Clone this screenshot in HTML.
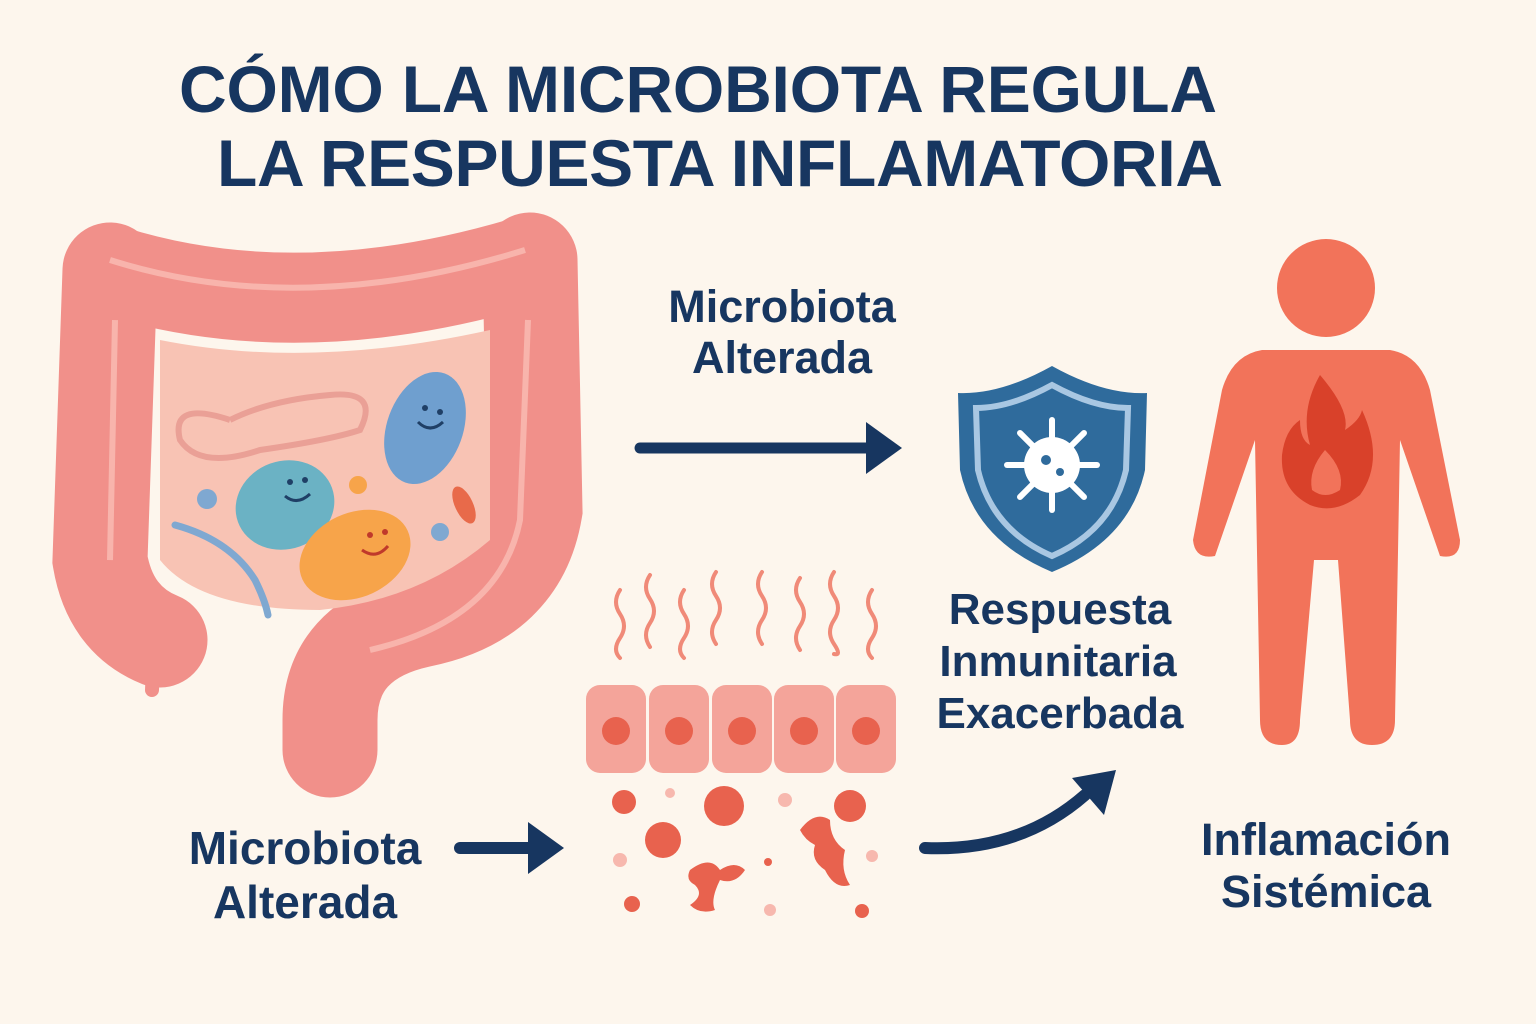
<!DOCTYPE html>
<html><head><meta charset="utf-8"><style>
html,body{margin:0;padding:0;background:#fdf6ed;}
svg{display:block}
text{font-family:"Liberation Sans","DejaVu Sans",sans-serif;font-weight:bold;fill:#173660}
</style></head><body>
<svg width="1536" height="1024" viewBox="0 0 1536 1024" xmlns="http://www.w3.org/2000/svg">
<rect width="1536" height="1024" fill="#fdf6ed"/>
<text x="698" y="112" font-size="66" text-anchor="middle" textLength="1038">CÓMO LA MICROBIOTA REGULA</text>
<text x="720" y="186" font-size="66" text-anchor="middle" textLength="1006">LA RESPUESTA INFLAMATORIA</text>

<!-- intestine -->
<g>
<path d="M110 270 Q300 330 530 260" stroke="#f1908a" stroke-width="90" fill="none" stroke-linecap="round"/>
<path d="M110 270 L100 560 Q110 620 160 640" stroke="#f1908a" stroke-width="95" fill="none" stroke-linecap="round"/>
<path d="M530 260 L535 510 Q520 600 420 620 Q330 640 330 720 L330 750" stroke="#f1908a" stroke-width="95" fill="none" stroke-linecap="round"/>
<path d="M155 620 L152 690" stroke="#f1908a" stroke-width="14" stroke-linecap="round"/>
<path d="M160 340 Q310 370 490 330 L490 540 Q420 600 320 610 Q200 610 160 560 Z" fill="#f8c3b4"/>
<path d="M110 260 Q300 320 525 250" stroke="#f8b4ac" stroke-width="6" fill="none"/>
<path d="M115 320 L110 560" stroke="#f8b4ac" stroke-width="6" fill="none"/>
<path d="M528 320 L520 520 Q500 620 370 650" stroke="#f8b4ac" stroke-width="6" fill="none"/>
<path d="M230 420 Q170 400 180 440 Q200 470 260 450 Q330 440 360 430 Q380 390 330 395 Q270 400 230 420" stroke="#eaa096" stroke-width="6" fill="none"/>
<path d="M175 525 Q230 540 255 580 Q265 600 268 615" stroke="#7fa8d1" stroke-width="7" fill="none" stroke-linecap="round"/>
<ellipse cx="425" cy="428" rx="38" ry="58" transform="rotate(20 425 428)" fill="#6f9fcf"/>
<ellipse cx="285" cy="505" rx="50" ry="44" transform="rotate(-20 285 505)" fill="#6bb2c4"/>
<ellipse cx="355" cy="555" rx="58" ry="42" transform="rotate(-25 355 555)" fill="#f7a44a"/>
<g fill="#1f3f66"><circle cx="425" cy="408" r="3"/><circle cx="440" cy="412" r="3"/><circle cx="290" cy="482" r="3"/><circle cx="305" cy="480" r="3"/></g>
<path d="M418 422 q12 12 25 0" stroke="#1f3f66" stroke-width="3" fill="none"/>
<path d="M285 496 q12 10 25 -2" stroke="#1f3f66" stroke-width="3" fill="none"/>
<g fill="#c0392b"><circle cx="370" cy="535" r="3"/><circle cx="385" cy="532" r="3"/></g>
<path d="M362 550 q14 10 26 -4" stroke="#c0392b" stroke-width="3" fill="none"/>
<circle cx="207" cy="499" r="10" fill="#7fa8d1"/><circle cx="358" cy="485" r="9" fill="#f7a44a"/>
<circle cx="440" cy="532" r="9" fill="#7fa8d1"/>
<ellipse cx="464" cy="505" rx="9" ry="20" transform="rotate(-25 464 505)" fill="#e86a4a"/>
</g>

<!-- top arrow -->
<text x="782" y="322" font-size="45" text-anchor="middle">Microbiota</text>
<text x="782" y="373" font-size="45" text-anchor="middle">Alterada</text>
<line x1="640" y1="448" x2="875" y2="448" stroke="#173660" stroke-width="11" stroke-linecap="round"/>
<path d="M866 422 L902 448 L866 474 Z" fill="#173660"/>

<!-- shield -->
<path d="M1052 366 Q1000 395 958 393 L960 470 Q975 540 1052 572 Q1130 540 1145 470 L1147 393 Q1104 395 1052 366 Z" fill="#2f6b9c"/>
<path d="M1052 385 Q1010 408 976 408 L978 470 Q992 530 1052 556 Q1112 530 1126 470 L1128 408 Q1094 408 1052 385 Z" fill="none" stroke="#a9c7e2" stroke-width="6"/>
<g stroke="#fff" stroke-width="6" stroke-linecap="round">
<line x1="1052" y1="420" x2="1052" y2="510"/><line x1="1007" y1="465" x2="1097" y2="465"/>
<line x1="1020" y1="433" x2="1084" y2="497"/><line x1="1084" y1="433" x2="1020" y2="497"/>
</g>
<circle cx="1052" cy="465" r="28" fill="#fff"/>
<circle cx="1046" cy="460" r="5" fill="#2f6b9c"/><circle cx="1060" cy="472" r="4" fill="#2f6b9c"/>
<text x="1060" y="624" font-size="44" text-anchor="middle">Respuesta</text>
<text x="1058" y="676" font-size="44" text-anchor="middle">Inmunitaria</text>
<text x="1060" y="728" font-size="44" text-anchor="middle">Exacerbada</text>

<!-- person -->
<g fill="#f2735a">
<circle cx="1326" cy="288" r="49"/>
<path d="M1262 350 L1390 350 Q1420 355 1430 390 L1460 540 Q1460 560 1440 556 L1400 440 L1395 720 Q1395 745 1372 745 Q1350 745 1350 720 L1338 560 L1314 560 L1300 720 Q1300 745 1282 745 Q1260 745 1260 720 L1255 440 L1215 556 Q1195 560 1193 540 L1222 390 Q1232 355 1262 350 Z"/>
</g>
<path d="M1320 375 Q1350 410 1345 430 Q1360 420 1362 410 Q1385 460 1360 495 Q1335 515 1310 505 Q1280 490 1282 455 Q1285 430 1300 420 Q1300 440 1310 445 Q1300 410 1320 375 Z" fill="#d9412a"/>
<path d="M1325 450 Q1345 470 1340 490 Q1325 500 1312 490 Q1308 470 1325 450 Z" fill="#f2735a"/>
<text x="1326" y="855" font-size="45" text-anchor="middle">Inflamación</text>
<text x="1326" y="907" font-size="45" text-anchor="middle">Sistémica</text>

<!-- bottom -->
<text x="305" y="864" font-size="46" text-anchor="middle">Microbiota</text>
<text x="305" y="918" font-size="46" text-anchor="middle">Alterada</text>
<line x1="460" y1="848" x2="535" y2="848" stroke="#173660" stroke-width="12" stroke-linecap="round"/>
<path d="M528 822 L564 848 L528 874 Z" fill="#173660"/>

<g stroke="#f08a78" stroke-width="4" fill="none" stroke-linecap="round">
<path d="M620 590 q-8 12 0 24 q8 12 0 24 q-8 12 0 20"/>
<path d="M650 575 q-8 12 0 24 q8 12 0 24 q-8 12 0 24"/>
<path d="M684 590 q-8 12 0 24 q8 12 0 24 q-8 12 0 20"/>
<path d="M716 572 q-8 12 0 24 q8 12 0 24 q-8 12 0 24"/>
<path d="M762 572 q-8 12 0 24 q8 12 0 24 q-8 12 0 24"/>
<path d="M800 578 q-8 12 0 24 q8 12 0 24 q-8 12 0 24"/>
<path d="M834 572 q-8 12 0 24 q8 12 0 24 q-8 12 0 24 q8 12 0 10"/>
<path d="M872 590 q-8 12 0 24 q8 12 0 24 q-8 12 0 20"/>
</g>
<g fill="#f4a49a">
<rect x="586" y="685" width="60" height="88" rx="14"/><rect x="649" y="685" width="60" height="88" rx="14"/>
<rect x="712" y="685" width="60" height="88" rx="14"/><rect x="774" y="685" width="60" height="88" rx="14"/>
<rect x="836" y="685" width="60" height="88" rx="14"/>
</g>
<g fill="#e8624e">
<circle cx="616" cy="731" r="14"/><circle cx="679" cy="731" r="14"/><circle cx="742" cy="731" r="14"/><circle cx="804" cy="731" r="14"/><circle cx="866" cy="731" r="14"/>
<circle cx="624" cy="802" r="12"/><circle cx="724" cy="806" r="20"/><circle cx="850" cy="806" r="16"/>
<circle cx="663" cy="840" r="18"/><circle cx="632" cy="904" r="8"/><circle cx="862" cy="911" r="7"/><circle cx="768" cy="862" r="4"/>
<path d="M690 870 q20 -15 30 0 q15 -10 25 0 q-10 15 -25 10 q-10 20 -5 30 q-15 5 -25 -5 q15 -10 5 -20 q-10 -5 -5 -15 Z"/>
<path d="M800 830 q15 -20 30 -10 q0 20 15 30 q-5 20 5 35 q-15 5 -25 -15 q-15 -10 -10 -25 q-10 -5 -15 -15 Z"/>
</g>
<g fill="#f7b8ae"><circle cx="670" cy="793" r="5"/><circle cx="785" cy="800" r="7"/><circle cx="620" cy="860" r="7"/><circle cx="872" cy="856" r="6"/><circle cx="770" cy="910" r="6"/></g>

<path d="M925 848 Q1020 852 1085 795" stroke="#173660" stroke-width="12" fill="none" stroke-linecap="round"/>
<path d="M1072 778 L1116 770 L1104 815 Z" fill="#173660"/>
</svg>
</body></html>
